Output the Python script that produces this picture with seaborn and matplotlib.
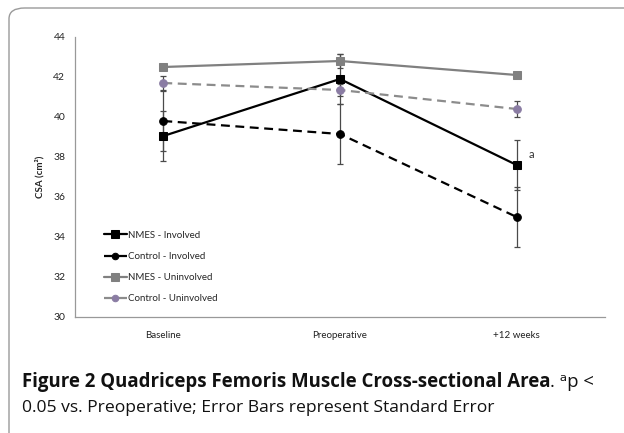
import pandas as pd
import matplotlib
matplotlib.use("Agg")
import matplotlib.pyplot as plt
from matplotlib.patches import FancyBboxPatch
import seaborn as sns

# data
categories = ["Baseline", "Preoperative", "+12 weeks"]
nmes_inv = [39.05, 41.9, 37.6]
nmes_inv_se = [1.27, 1.27, 1.25]
ctrl_inv = [39.8, 39.15, 35.0]
ctrl_inv_se = [1.5, 1.5, 1.5]
nmes_uninv = [42.5, 42.8, 42.1]
nmes_uninv_se = [0.15, 0.37, 0.15]
ctrl_uninv = [41.7, 41.35, 40.4]
ctrl_uninv_se = [0.37, 0.3, 0.38]

series = [
    ("NMES - Involved", nmes_inv, nmes_inv_se, "black", "black", "-", "s"),
    ("Control - Involved", ctrl_inv, ctrl_inv_se, "black", "black", (0, (4, 2.5)), "o"),
    ("NMES - Uninvolved", nmes_uninv, nmes_uninv_se, "#808080", "#808080", "-", "s"),
    ("Control - Uninvolved", ctrl_uninv, ctrl_uninv_se, "#8c8c8c", "#8a7ca3", (0, (4, 2.5)), "o"),
]

sns.set_style("white")
plt.rcParams["font.family"] = ["Lato", "DejaVu Sans"]

W, H = 624, 433
fig = plt.figure(figsize=(W / 100, H / 100), dpi=100)
ax = fig.add_axes([75 / W, 1 - 317 / H, 530 / W, 280 / H])

xpos = list(range(len(categories)))
for name, vals, se, lc, mc, ls, mk in series:
    df = pd.DataFrame({"x": xpos, "y": vals})
    ax.errorbar(xpos, vals, yerr=se, fmt="none", ecolor="#4a4a4a",
                elinewidth=0.9, capsize=2, capthick=0.9, zorder=2)
    sns.lineplot(data=df, x="x", y="y", ax=ax, color=lc, linestyle=ls,
                 linewidth=1.6, marker=mk, markersize=6 if mk == "s" else 5.5,
                 markerfacecolor=mc, markeredgecolor=mc, label=name, zorder=3)

ax.text(2 + 0.07, 38.15, "a", fontsize=8, color="#333333", va="center")

ax.set_xlim(-0.5, 2.5)
ax.set_ylim(30, 44)
ax.set_yticks(range(30, 45, 2))
ax.set_xticks(xpos)
ax.set_xticklabels(categories)
ax.set_xticks([-0.5, 0.5, 1.5, 2.5], minor=True)
ax.tick_params(axis="x", which="major", length=0, pad=10, labelsize=7, labelcolor="#222222")
ax.tick_params(axis="x", which="minor", length=4, width=0.8, color="#999999", direction="out")
ax.tick_params(axis="y", length=4, width=0.8, color="#999999", direction="out",
               labelsize=7.5, labelcolor="#222222", pad=3)
ax.set_xlabel("")
ax.set_ylabel("CSA (cm²)", fontsize=7, fontweight="bold", labelpad=6)
for s in ["top", "right"]:
    ax.spines[s].set_visible(False)
for s in ["left", "bottom"]:
    ax.spines[s].set_color("#999999")
    ax.spines[s].set_linewidth(0.9)

leg = ax.legend(loc="upper left", bbox_to_anchor=(0.045, 0.325), frameon=False,
                fontsize=7, handlelength=2.4, handletextpad=0.12,
                labelspacing=1.25, borderpad=0, markerscale=0.85)

# card border
box = FancyBboxPatch((9 / W, -0.2), 1.2, 1.2 - 8 / H,
                     boxstyle="round,pad=0,rounding_size=0.025",
                     transform=fig.transFigure, fill=False,
                     edgecolor="#9a9a9a", linewidth=1.0, zorder=0)
fig.patches.append(box)

# caption
cap_font = ["Open Sans", "DejaVu Sans"]
t1 = fig.text(22 / W, 1 - 382 / H, "Figure 2 Quadriceps Femoris Muscle Cross-sectional Area",
              fontsize=13.4, fontweight="bold", family=cap_font, va="center", color="#111111")
fig.canvas.draw()
bb = t1.get_window_extent()
fig.text(bb.x1 / W, 1 - 382 / H, ". ᵃp <", fontsize=13.4, family=cap_font,
         va="center", color="#111111")
fig.text(22 / W, 1 - 408 / H, "0.05 vs. Preoperative; Error Bars represent Standard Error",
         fontsize=12.6, family=cap_font, va="center", color="#111111")

fig.savefig("out.png", dpi=100)
